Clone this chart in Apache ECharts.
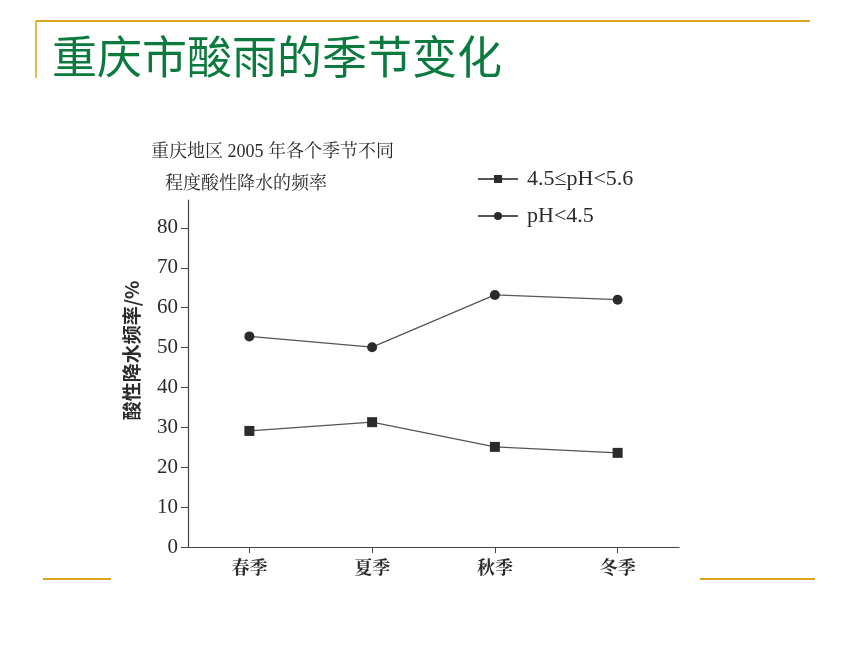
<!DOCTYPE html>
<html>
<head>
<meta charset="utf-8">
<script src="https://cdn.jsdelivr.net/npm/echarts@6/dist/echarts.min.js"></script>
<style>
  html, body { margin: 0; padding: 0; background: #fff; }
  #chart { width: 860px; height: 645px; }
</style>
</head>
<body>
<div id="chart"></div>
<script>
// seasons and acid-rain frequency (%), Chongqing 2005
const seasons = ['春季', '夏季', '秋季', '冬季']
const weakAcid = [29.1, 31.3, 25.1, 23.6]   // 4.5 <= pH < 5.6
const strongAcid = [52.8, 50.1, 63.2, 62.0] // pH < 4.5
const yTicks = [0, 10, 20, 30, 40, 50, 60, 70, 80]

const serif = '"Liberation Serif", "Noto Serif CJK SC", "Noto Sans CJK SC", serif'
const gold = '#D9A521'
const ink = '#2b2b2b'

let myChart = echarts.init(document.getElementById('chart'))
let options = {
  animation: false,
  title: [
    {
      text: '重庆市酸雨的季节变化',
      left: 52,
      top: 34,
      padding: 0,
      textStyle: {
        color: '#0B7A3E',
        fontFamily: '"Noto Sans CJK SC"',
        fontWeight: 'normal',
        fontSize: 45
      }
    },
    {
      text: '重庆地区 2005 年各个季节不同',
      left: 151,
      top: 143,
      padding: 0,
      textStyle: { color: ink, fontFamily: serif, fontWeight: 'normal', fontSize: 18 }
    },
    {
      text: '程度酸性降水的频率',
      left: 165,
      top: 175,
      padding: 0,
      textStyle: { color: ink, fontFamily: serif, fontWeight: 'normal', fontSize: 18 }
    }
  ],
  graphic: [
    { type: 'line', shape: { x1: 36, y1: 21, x2: 810, y2: 21 }, style: { stroke: gold, lineWidth: 2 } },
    { type: 'line', shape: { x1: 36, y1: 21, x2: 36, y2: 78 }, style: { stroke: gold, lineWidth: 1.5 } },
    { type: 'line', shape: { x1: 43, y1: 579, x2: 111, y2: 579 }, style: { stroke: gold, lineWidth: 2 } },
    { type: 'line', shape: { x1: 700, y1: 579, x2: 815, y2: 579 }, style: { stroke: gold, lineWidth: 2 } }
  ],
  legend: {
    orient: 'vertical',
    left: 477,
    top: 168,
    padding: 0,
    itemWidth: 40,
    itemHeight: 10,
    itemGap: 15,
    textStyle: { color: ink, fontFamily: serif, fontSize: 22, padding: [0, 0, 0, 4] },
    data: ['4.5≤pH<5.6', 'pH<4.5']
  },
  grid: {
    left: 188,
    right: 181,
    top: 200,
    bottom: 98,
    containLabel: false
  },
  xAxis: {
    type: 'category',
    data: seasons,
    boundaryGap: true,
    axisLine: { lineStyle: { color: '#444', width: 1.2 } },
    axisTick: { show: true, alignWithLabel: true, length: 6, lineStyle: { color: '#444' } },
    axisLabel: {
      color: ink,
      fontFamily: serif,
      fontWeight: 'bold',
      fontSize: 18,
      margin: 13
    }
  },
  yAxis: {
    type: 'value',
    min: 0,
    max: 87,
    interval: 10,
    name: '酸性降水频率/%',
    nameLocation: 'middle',
    nameRotate: 90,
    nameGap: 47,
    nameTextStyle: {
      color: ink,
      fontFamily: '"Noto Sans CJK SC"',
      fontWeight: 'bold',
      fontSize: 19,
      padding: [0, 0, 0, 46]
    },
    axisLine: { show: true, lineStyle: { color: '#444', width: 1.2 } },
    axisTick: { show: true, length: 7, customValues: yTicks, lineStyle: { color: '#444' } },
    axisLabel: {
      color: ink,
      fontFamily: serif,
      fontSize: 21,
      margin: 10,
      customValues: yTicks
    },
    splitLine: { show: false }
  },
  color: [ink, ink],
  series: [
    {
      name: '4.5≤pH<5.6',
      type: 'line',
      data: weakAcid,
      symbol: 'rect',
      symbolSize: 10,
      lineStyle: { color: '#555', width: 1.2 },
      itemStyle: { color: ink }
    },
    {
      name: 'pH<4.5',
      type: 'line',
      data: strongAcid,
      symbol: 'circle',
      symbolSize: 10,
      lineStyle: { color: '#555', width: 1.2 },
      itemStyle: { color: ink }
    }
  ]
}
myChart.setOption(options)
</script>
</body>
</html>
